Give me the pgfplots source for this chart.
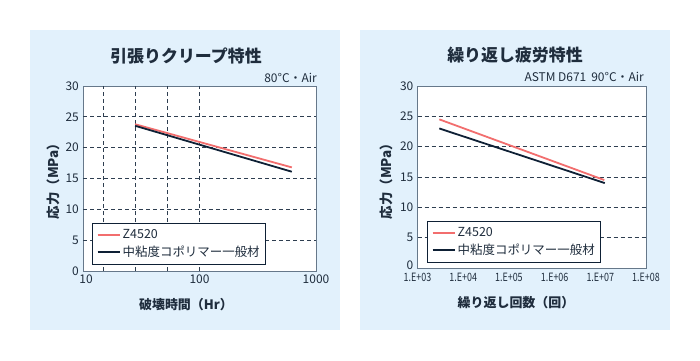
\documentclass[border=0pt]{standalone}
\usepackage{fontspec}
\setmainfont{Noto Sans CJK JP}
\usepackage{graphicx}
\usepackage{pgfplots}
\pgfplotsset{compat=1.18}
\definecolor{panel}{HTML}{E2F1FC}
\definecolor{redl}{HTML}{F26E6E}
\definecolor{navyl}{HTML}{0E2035}
\definecolor{txt}{HTML}{1F2D3D}
\definecolor{frame}{HTML}{66788A}
\definecolor{gridc}{HTML}{2E3E50}
\begin{document}
\begin{tikzpicture}[x=1bp,y=1bp]
\fill[white] (0,0) rectangle (700,360);
\fill[panel] (30,30) rectangle (340,330);
\fill[panel] (360,30) rectangle (670,330);
\pgfplotsset{
  common/.style={
    scale only axis, anchor=south west,
    axis background/.style={fill=white},
    axis line style={draw=frame, line width=0.9pt},
    major tick length=0pt, minor tick length=0pt,
    ymin=0, ymax=30, ytick={0,5,...,30},
    extra y ticks={5,10,15,20,25}, extra y tick labels={},
    extra y tick style={grid=major, major grid style={draw=gridc, line width=0.7pt, dash pattern=on 4bp off 3bp}},
    /pgf/number format/assume math mode=true,
    tick label style={font=\fontsize{12}{14}\selectfont, text=txt, inner sep=0pt},
    yticklabel shift=4bp, xticklabel shift=4bp,
    legend style={draw=navyl, line width=0.8pt, fill=white, font=\fontsize{12.5}{15}\selectfont, text=txt,
      inner xsep=4bp, inner ysep=4bp, row sep=2bp, anchor=south west},
    legend cell align=left,
    legend image code/.code={\draw[##1, line width=2pt] (0bp,0bp) -- (22bp,0bp);},
  }
}
\begin{axis}[common, at={(83bp,89bp)}, width=233bp, height=185bp,
  xmode=log, xmin=10, xmax=1000, xtick={10,100,1000}, xticklabels={\hspace*{6bp}10,100,1000},
  extra x ticks={14.9,28.1,53,100}, extra x tick labels={},
  extra x tick style={grid=major, major grid style={draw=gridc, line width=0.7pt, dash pattern=on 4bp off 3bp}},
  legend style={at={(axis description cs:0.04,0.036)}}]
\addplot[draw=redl, line width=1.8pt] coordinates {(28,23.8) (620,16.8)};
\addlegendentry{Z4520}
\addplot[draw=navyl, line width=1.8pt] coordinates {(28,23.55) (620,16.1)};
\addlegendentry{中粘度コポリマー一般材}
\end{axis}
\begin{axis}[common, at={(417.5bp,92bp)}, width=228.5bp, height=182bp,
  yticklabels={\raisebox{5bp}{0},5,10,15,20,25,30},
  xmode=log, xmin=1e3, xmax=1e8, xtick={1e3,1e4,1e5,1e6,1e7,1e8},
  xticklabels={\scalebox{0.78}[1]{1.E+03},\scalebox{0.78}[1]{1.E+04},\scalebox{0.78}[1]{1.E+05},\scalebox{0.78}[1]{1.E+06},\scalebox{0.78}[1]{1.E+07},\scalebox{0.78}[1]{1.E+08}},
  xticklabel style={font=\fontsize{11.5}{13}\selectfont}, xticklabel shift=5bp,
  legend style={at={(axis description cs:0.043,0.029)}}]
\addplot[draw=redl, line width=1.8pt] coordinates {(3000,24.5) (1.22e7,14.5)};
\addlegendentry{Z4520}
\addplot[draw=navyl, line width=1.8pt] coordinates {(3000,23.0) (1.25e7,14.0)};
\addlegendentry{中粘度コポリマー一般材}
\end{axis}
% titles and labels
\node[text=txt, font=\fontsize{17}{19}\selectfont\bfseries] at (186,304) {引張りクリープ特性};
\node[text=txt, font=\fontsize{17}{19}\selectfont\bfseries] at (515,305) {繰り返し疲労特性};
\node[text=txt, font=\fontsize{12}{14}\selectfont, anchor=east, inner sep=0pt] at (317,282.5) {80°C・Air};
\node[text=txt, font=\fontsize{12}{14}\selectfont, anchor=east, inner sep=0pt] at (644,283) {ASTM D671\hspace{5bp}90°C・Air};
\node[text=txt, font=\fontsize{13}{15}\selectfont\bfseries] at (186,55) {破壊時間（Hr）};
\node[text=txt, font=\fontsize{13}{15}\selectfont\bfseries] at (516,57) {繰り返し回数（回）};
\node[text=txt, font=\fontsize{13.5}{15}\selectfont\bfseries, rotate=90] at (53,182) {応力（MPa）};
\node[text=txt, font=\fontsize{13.5}{15}\selectfont\bfseries, rotate=90] at (386,182) {応力（MPa）};
\end{tikzpicture}
\end{document}
